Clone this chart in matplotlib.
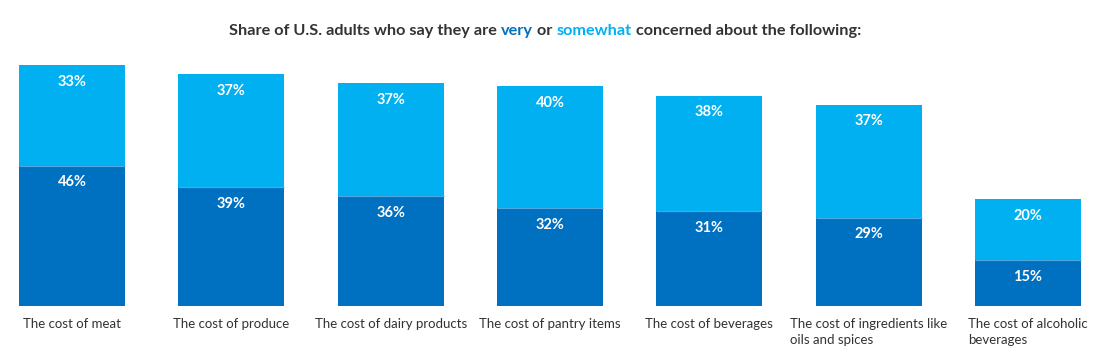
import numpy as np
import matplotlib
matplotlib.use("Agg")
import matplotlib.pyplot as plt
from matplotlib.offsetbox import TextArea, HPacker, AnnotationBbox

plt.rcParams['font.family'] = ['Lato', 'DejaVu Sans']

categories = [
    "The cost of meat",
    "The cost of produce",
    "The cost of dairy products",
    "The cost of pantry items",
    "The cost of beverages",
    "The cost of ingredients like\noils and spices",
    "The cost of alcoholic\nbeverages",
]
very = [46, 39, 36, 32, 31, 29, 15]
somewhat = [33, 37, 37, 40, 38, 37, 20]

dark = "#0070C0"
light = "#00B0F0"
text_col = "#333333"

W, H = 1099, 358
step = 159.33
fig = plt.figure(figsize=(W / 100, H / 100), dpi=100)
ax = fig.add_axes([0, 52 / H, 1, 241 / H])

x = np.arange(len(categories))
bw = 106 / step
ax.bar(x, very, width=bw, color=dark, edgecolor="none")
ax.bar(x, somewhat, width=bw, bottom=very, color=light, edgecolor="none")
ax.hlines(very, x - bw / 2, x + bw / 2, colors="#4FA8E0", linewidth=0.8)

for xi, v, s in zip(x, very, somewhat):
    ax.annotate(f"{v}%", (xi, v), xytext=(0, -12), textcoords="offset points",
                ha="center", va="center", color="white", fontsize=10.5, fontweight="bold")
    ax.annotate(f"{s}%", (xi, v + s), xytext=(0, -12), textcoords="offset points",
                ha="center", va="center", color="white", fontsize=10.5, fontweight="bold")

ax.set_xlim(-72 / step, (W - 72) / step)
ax.set_ylim(0, 79)
ax.set_yticks([])
ax.set_xticks(x, categories)
ax.tick_params(axis="x", length=0, pad=9, labelsize=9.5, labelcolor=text_col)
for lbl in ax.get_xticklabels():
    lbl.set_multialignment("left")
    lbl.set_linespacing(1.3)
for sp in ax.spines.values():
    sp.set_visible(False)

# title with coloured words
parts = [("Share of U.S. adults who say they are ", text_col), ("very", dark),
         (" or ", text_col), ("somewhat", light),
         (" concerned about the following:", text_col)]
areas = [TextArea(t, textprops=dict(color=c, fontsize=11.7, fontweight="bold"))
         for t, c in parts]
box = HPacker(children=areas, align="baseline", pad=0, sep=0)
ab = AnnotationBbox(box, (545 / W, 1 - 31 / H), xycoords="figure fraction",
                    frameon=False, box_alignment=(0.5, 0.5))
fig.add_artist(ab)

fig.savefig("out.png", dpi=100)
plt.close(fig)
